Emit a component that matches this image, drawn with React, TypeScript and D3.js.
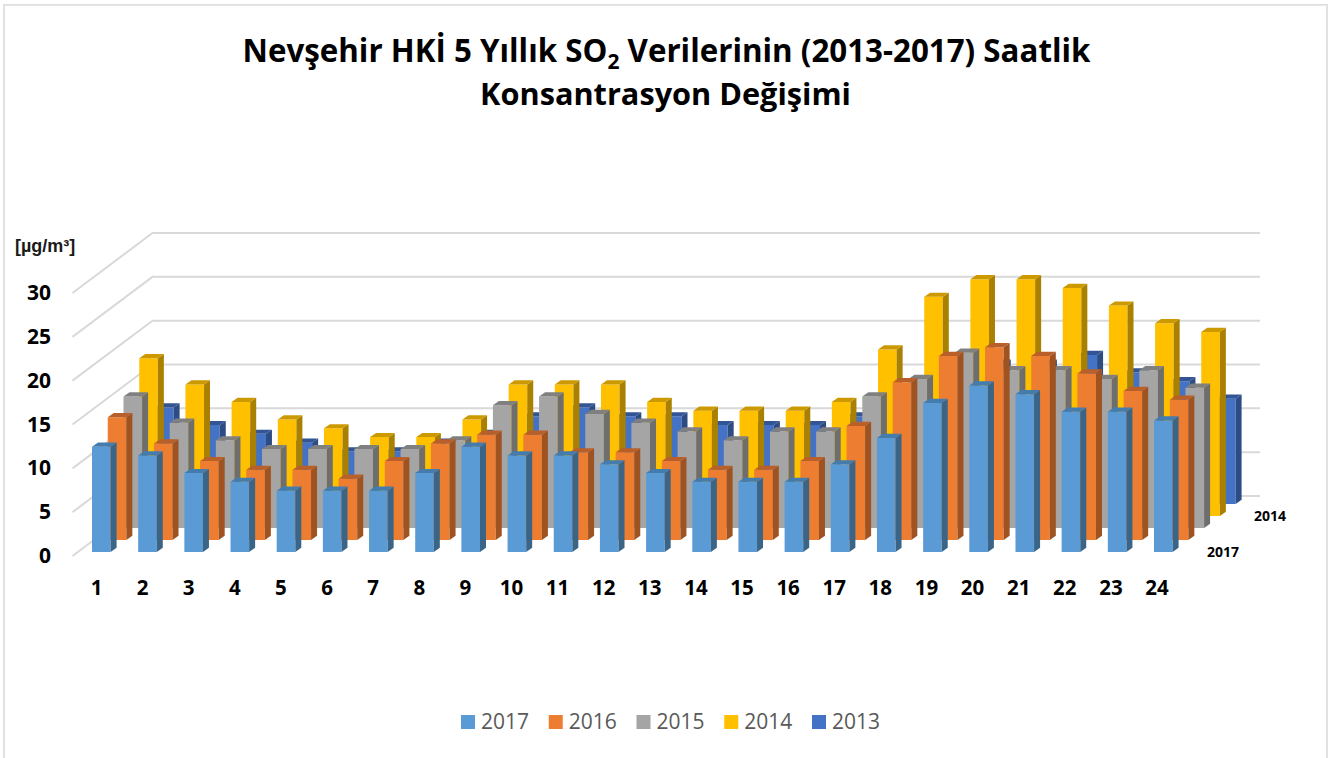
import React from "react";
import * as d3 from "d3";

const hours = d3.range(1, 25).map(String);
const seriesNames = ["2013", "2014", "2015", "2016", "2017"];
const v2017 = [12, 11, 9, 8, 7, 7, 7, 9, 12, 11, 11, 10, 9, 8, 8, 8, 10, 13, 17, 19, 18, 16, 16, 15];
const v2016 = [14, 11, 9, 8, 8, 7, 9, 11, 12, 12, 10, 10, 9, 8, 8, 9, 13, 18, 21, 22, 21, 19, 17, 16];
const v2015 = [15, 12, 10, 9, 9, 9, 9, 10, 14, 15, 13, 12, 11, 10, 11, 11, 15, 17, 20, 18, 18, 17, 18, 16];
const v2014 = [18, 15, 13, 11, 10, 9, 9, 11, 15, 15, 15, 13, 12, 12, 12, 13, 19, 25, 27, 27, 26, 24, 22, 21];
const v2013 = [11, 9, 8, 7, 6, 6, 7, 8, 10, 11, 10, 10, 9, 9, 9, 10, 11, 14, 16, 16, 17, 15, 14, 12];
const seriesValues = [v2013, v2014, v2015, v2016, v2017];
const yTicks = [0, 5, 10, 15, 20, 25, 30];
const legendNames = ["2017", "2016", "2015", "2014", "2013"];

const faces: Record<string, { front: string; side: string; top: string }> = {
  "2017": { front: "#5B9BD5", side: "#3A6587", top: "#437CAD" },
  "2016": { front: "#ED7D31", side: "#9E5321", top: "#B9602A" },
  "2015": { front: "#A5A5A5", side: "#6E6E6E", top: "#808080" },
  "2014": { front: "#FFC000", side: "#A98000", top: "#CC9900" },
  "2013": { front: "#4472C4", side: "#2D4C83", top: "#335595" },
};

const SANS = "'Open Sans', sans-serif";
const barW = 18.6;
const sideX = 6;
const sideY = 4.2;

// first hour's column left edge, nearest series at index 4
const xHour = d3.scaleLinear().domain([0, 23]).range([92, 1154]);
const xLabel = d3.scaleLinear().domain([0, 23]).range([96.5, 1157]);
const depthX = d3.scaleLinear().domain([4, 0]).range([0, 63]);
const depthY = d3.scaleLinear().domain([4, 0]).range([552, 504]);
const unit = d3.scaleLinear().domain([0, 30]).range([0, 263]);

export default function App() {
  return (
    <svg width={1344} height={758} style={{ position: "absolute", left: 0, top: 0, background: "#fff" }}>
      <path d="M4 758V4.8H1327V758" fill="none" stroke="#DEDEDE" strokeWidth={1.8} />

      <text textAnchor="middle" fontFamily={SANS} fontWeight={700} fill="#000">
        <tspan x={666.5} y={62} fontSize={31.3}>Nevşehir HKİ 5 Yıllık SO<tspan fontSize={21} dy={7}>2</tspan><tspan dy={-7}> Verilerinin (2013-2017) Saatlik</tspan></tspan>
        <tspan x={665.5} y={105} fontSize={30.7}>Konsantrasyon Değişimi</tspan>
      </text>

      {yTicks.map((t) => {
        const back = 496 - unit(t);
        return (
          <path key={t} d={`M72.5 ${back + 60}L152.5 ${back}H1260`} fill="none" stroke="#D9D9D9" strokeWidth={2} />
        );
      })}

      {seriesNames.map((name, s) => {
        const f = faces[name];
        return (
          <g key={name}>
            {seriesValues[s].map((v, i) => {
              const x = xHour(i) + depthX(s);
              const y0 = depthY(s);
              const y1 = y0 - unit(v);
              const x1 = x + barW;
              return (
                <g key={i}>
                  <polygon fill={f.front} points={`${x},${y0} ${x1},${y0} ${x1},${y1} ${x},${y1}`} />
                  <polygon fill={f.side} points={`${x1},${y0} ${x1 + sideX},${y0 - sideY} ${x1 + sideX},${y1 - sideY} ${x1},${y1}`} />
                  <polygon fill={f.top} points={`${x},${y1} ${x1},${y1} ${x1 + sideX},${y1 - sideY} ${x + sideX},${y1 - sideY}`} />
                </g>
              );
            })}
          </g>
        );
      })}

      {yTicks.map((t) => (
        <text key={t} x={51} y={555.5 - unit(t) + 7.5} textAnchor="end" fontFamily={SANS} fontWeight={700} fontSize={21} fill="#000">
          {t}
        </text>
      ))}
      {hours.map((h, i) => (
        <text key={h} x={xLabel(i)} y={595} textAnchor="middle" fontFamily={SANS} fontWeight={700} fontSize={20.5} fill="#000">
          {h}
        </text>
      ))}

      <text x={15} y={252} fontFamily="'Liberation Sans', sans-serif" fontWeight={700} fontSize={18} fill="#1a1a1a">[µg/m³]</text>
      <text x={1254} y={520.5} fontFamily={SANS} fontWeight={700} fontSize={14} fill="#000">2014</text>
      <text x={1207} y={556.5} fontFamily={SANS} fontWeight={700} fontSize={14} fill="#000">2017</text>

      {legendNames.map((name, k) => {
        const lx = 461 + k * 87.75;
        return (
          <g key={name}>
            <rect x={lx} y={715} width={14} height={14} fill={faces[name].front} />
            <text x={lx + 20} y={729} fontFamily={SANS} fontSize={21} fill="#595959">{name}</text>
          </g>
        );
      })}
    </svg>
  );
}
